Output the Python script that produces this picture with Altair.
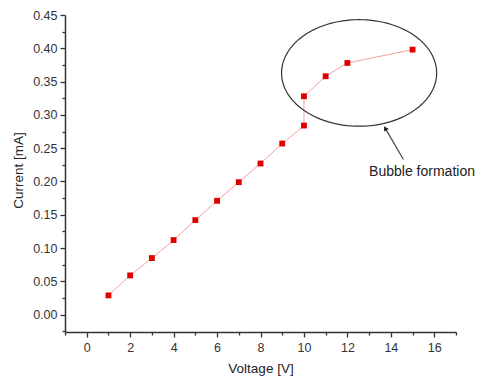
import altair as alt
import numpy as np
import pandas as pd

# Data
voltage = [1, 2, 3, 4, 5, 6, 7, 8, 9, 10, 10, 11, 12, 15]
current = [0.029, 0.059, 0.085, 0.112, 0.142, 0.171, 0.199, 0.227, 0.257, 0.284,
           0.328, 0.358, 0.378, 0.398]

x_ticks = list(range(-1, 18))
y_ticks = [round(-0.025 + 0.025 * i, 3) for i in range(20)]

# Annotation (ellipse, arrow, label) in data units
ell_center = (12.54, 0.363)
ell_radius = (3.57, 0.080)
arrow_start = (14.58, 0.233)
arrow_head = (13.76, 0.279)
label_pos = (13.0, 0.214)
label_text = "Bubble formation"

FONT = "Liberation Sans"

df = pd.DataFrame({"x": voltage, "y": current, "i": range(len(voltage))})

t = np.linspace(0, 2 * np.pi, 121)
ell = pd.DataFrame({
    "x": ell_center[0] + ell_radius[0] * np.cos(t),
    "y": ell_center[1] + ell_radius[1] * np.sin(t),
    "i": range(len(t)),
})
shaft = pd.DataFrame({"x": [arrow_start[0], arrow_head[0]],
                      "y": [arrow_start[1], arrow_head[1]], "i": [0, 1]})
head = pd.DataFrame({"x": [arrow_head[0]], "y": [arrow_head[1]]})
lab = pd.DataFrame({"x": [label_pos[0]], "y": [label_pos[1]], "t": [label_text]})

xenc = alt.X(
    "x:Q",
    scale=alt.Scale(domain=[-1, 17], nice=False, zero=False),
    axis=alt.Axis(
        title="Voltage [V]", values=x_ticks, grid=False,
        labelExpr="datum.value % 2 === 0 ? datum.label : ''",
        tickSize={"condition": {"test": "datum.value % 2 === 0", "value": 5}, "value": 3},
        tickColor="#333", tickWidth=1.3, domainColor="#333", domainWidth=1.5,
        labelFont=FONT, labelFontSize=12.5, labelColor="#333", labelPadding=4,
        titleFont=FONT, titleFontSize=13.5, titleFontWeight="normal", titleColor="#222",
        titleBaseline="middle", titleY=36,
    ),
)
yenc = alt.Y(
    "y:Q",
    scale=alt.Scale(domain=[-0.026, 0.45], nice=False, zero=False),
    axis=alt.Axis(
        title="Current [mA]", values=y_ticks, grid=False, format=".2f",
        labelExpr="round(datum.value * 1000) % 50 === 0 ? datum.label : ''",
        tickSize={"condition": {"test": "round(datum.value * 1000) % 50 === 0", "value": 5}, "value": 3},
        tickColor="#333", tickWidth=1.3, domainColor="#333", domainWidth=1.5,
        labelFont=FONT, labelFontSize=12.5, labelColor="#333", labelPadding=3,
        titleFont=FONT, titleFontSize=13.5, titleFontWeight="normal", titleColor="#222",
        titleAngle=270, titleBaseline="middle", titleX=-47, titleY=155,
    ),
)

line = alt.Chart(df).mark_line(color="#f4a0a0", strokeWidth=1).encode(x=xenc, y=yenc, order="i:Q")
pts = alt.Chart(df).mark_square(size=34, color="#e00000", opacity=1).encode(x=xenc, y=yenc)
ellipse = alt.Chart(ell).mark_line(color="#333", strokeWidth=1.2).encode(x=xenc, y=yenc, order="i:Q")
arrow = alt.Chart(shaft).mark_line(color="#444", strokeWidth=1.2).encode(x=xenc, y=yenc, order="i:Q")
arrowhead = alt.Chart(head).mark_point(shape="triangle", filled=True, color="#222",
                                        size=30, angle=330, opacity=1).encode(x=xenc, y=yenc)
text = alt.Chart(lab).mark_text(align="left", baseline="middle", font=FONT,
                                fontSize=14, color="#222").encode(x=xenc, y=yenc, text="t:N")

chart = alt.layer(line, pts, ellipse, arrow, arrowhead, text).properties(
    width=391, height=317,
    autosize=alt.AutoSizeParams(type="none"),
    padding={"left": 57, "top": 7, "right": 20, "bottom": 48},
).configure_view(stroke=None)

chart.save("out.html", embed_options={"renderer": "svg", "actions": False})
